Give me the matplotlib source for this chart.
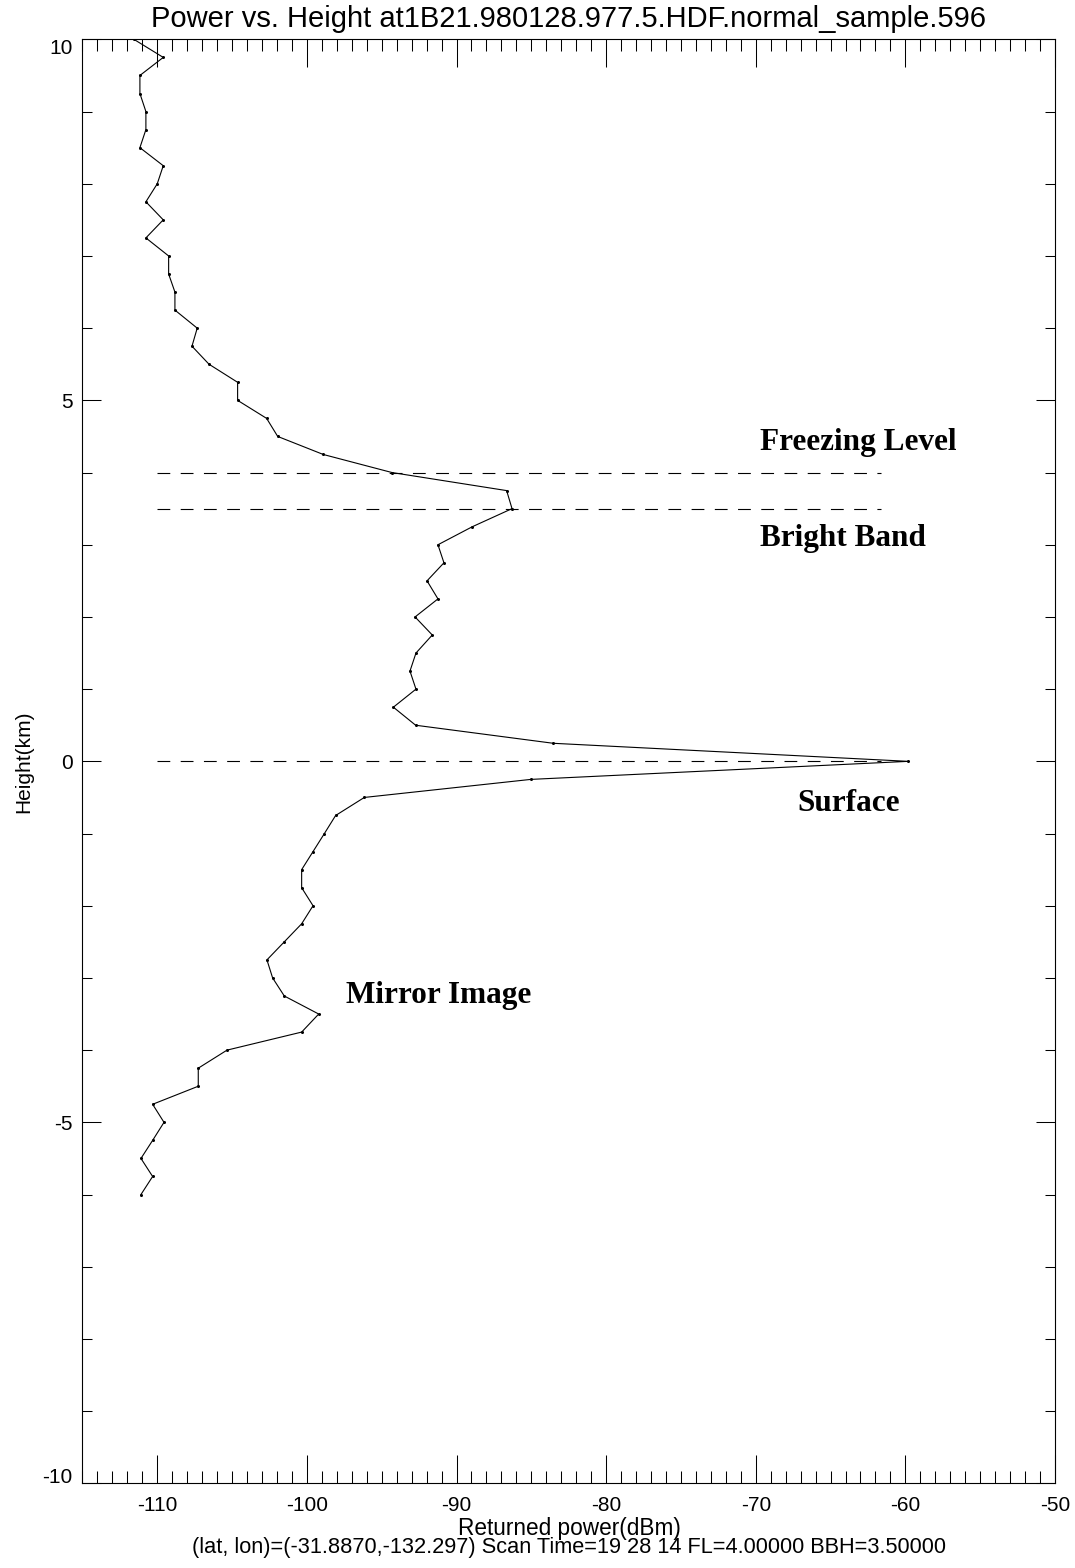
import matplotlib
matplotlib.use("Agg")
import matplotlib.pyplot as plt
from matplotlib.ticker import MultipleLocator

plt.rcParams["axes.unicode_minus"] = False

# Range-bin heights (km) and returned power (dBm) for the sampled ray
height_km = [
    10.0, 9.75, 9.5, 9.25, 9.0, 8.75, 8.5, 8.25, 8.0, 7.75, 7.5, 7.25, 7.0,
    6.75, 6.5, 6.25, 6.0, 5.75, 5.5, 5.25, 5.0, 4.75, 4.5, 4.25, 4.0, 3.75,
    3.5, 3.25, 3.0, 2.75, 2.5, 2.25, 2.0, 1.75, 1.5, 1.25, 1.0, 0.75, 0.5,
    0.25, 0.0, -0.25, -0.5, -0.75, -1.0, -1.25, -1.5, -1.75, -2.0, -2.25,
    -2.5, -2.75, -3.0, -3.25, -3.5, -3.75, -4.0, -4.25, -4.5, -4.75, -5.0,
    -5.25, -5.5, -5.75, -6.0,
]
power_dbm = [
    -111.56, -109.60, -111.16, -111.16, -110.76, -110.76, -111.16, -109.60,
    -110.00, -110.76, -109.60, -110.76, -109.24, -109.24, -108.82, -108.82,
    -107.33, -107.68, -106.54, -104.63, -104.63, -102.69, -101.95, -98.90,
    -94.31, -86.65, -86.29, -88.94, -91.24, -90.84, -91.97, -91.24, -92.77,
    -91.62, -92.71, -93.11, -92.71, -94.22, -92.73, -83.53, -59.80, -85.03,
    -96.16, -98.08, -98.83, -99.59, -100.35, -100.35, -99.59, -100.35,
    -101.51, -102.67, -102.29, -101.51, -99.21, -100.35, -105.34, -107.26,
    -107.26, -110.31, -109.55, -110.31, -111.09, -110.31, -111.09,
]

# Reference levels: freezing level, bright-band height, surface
ref_heights = [4.0, 3.5, 0.0]
ref_xrange = [-110.0, -61.6]

labels = ["Freezing Level", "Bright Band", "Surface", "Mirror Image"]
label_x = [-69.7, -69.7, -67.2, -97.4]
label_y = [4.41, 3.08, -0.59, -3.24]

x_ticks = [-110, -100, -90, -80, -70, -60, -50]
y_ticks = [-10, -5, 0, 5, 10]

title = "Power vs. Height at1B21.980128.977.5.HDF.normal_sample.596"
xlabel = "Returned power(dBm)"
info = ("(lat, lon)=(-31.8870,-132.297) Scan Time=19 28 14 "
        "FL=4.00000 BBH=3.50000")

sans = ["Liberation Sans", "DejaVu Sans"]
serif = ["Liberation Serif", "DejaVu Serif"]

fig = plt.figure(figsize=(10.75, 15.68), dpi=100)
ax = fig.add_axes([0.0767, 0.054, 0.9047, 0.9209])

ax.plot(power_dbm, height_km, color="black", lw=0.8,
        marker="o", markersize=2.2, markerfacecolor="black",
        markeredgewidth=0)

for h in ref_heights:
    ax.plot(ref_xrange, [h, h], color="black", lw=0.8,
            linestyle=(0, (11.5, 9.4)))

for txt, lx, ly in zip(labels, label_x, label_y):
    ax.text(lx, ly, txt, family=serif, fontweight="bold", fontsize=22.5,
            ha="left", va="center")

ax.set_xlim(-115, -50)
ax.set_ylim(-10, 10)
ax.set_xticks(x_ticks)
ax.set_yticks(y_ticks)
ax.xaxis.set_minor_locator(MultipleLocator(1))
ax.yaxis.set_minor_locator(MultipleLocator(1))

ax.tick_params(axis="both", which="both", direction="in",
               top=True, right=True, width=0.75, color="black")
ax.tick_params(axis="x", which="major", length=20, pad=9)
ax.tick_params(axis="x", which="minor", length=8.6)
ax.tick_params(axis="y", which="major", length=13.7, pad=7)
ax.tick_params(axis="y", which="minor", length=7.2)
for lbl in ax.get_xticklabels() + ax.get_yticklabels():
    lbl.set_family(sans)
    lbl.set_fontsize(15)
# End labels of the height axis sit inside the plotted range
ylbls = ax.get_yticklabels()
ylbls[0].set_va("baseline")
ylbls[-1].set_va("top")
for sp in ax.spines.values():
    sp.set_linewidth(0.8)

ax.set_ylabel("Height(km)", family=sans, fontsize=15, labelpad=7)

fig.text(0.5293, 1 - 27 / 1568, title, family=sans, fontsize=21,
         ha="center", va="baseline")
fig.text(0.5293, 1 - 1529 / 1568, xlabel, family=sans, fontsize=16.3,
         ha="center", va="center")
fig.text(0.5293, 1 - 1548 / 1568, info, family=sans, fontsize=15.7,
         ha="center", va="center")

fig.savefig("out.png", dpi=100)
